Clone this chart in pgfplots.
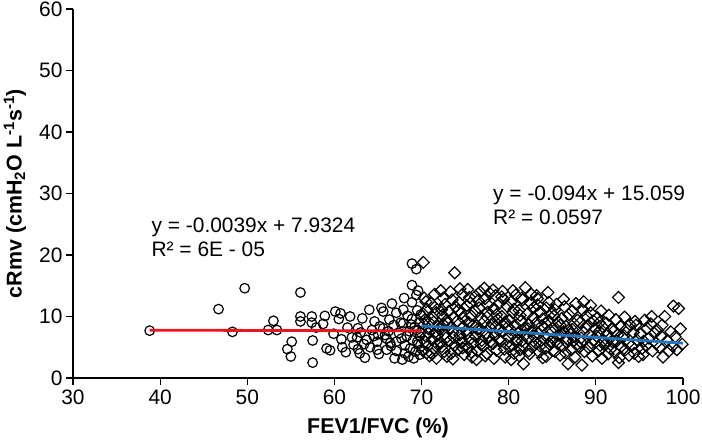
\documentclass[border=0pt]{standalone}
\usepackage{fontspec}
\setmainfont{Liberation Sans}
\usepackage{pgfplots}
\pgfplotsset{compat=1.18}
\definecolor{fitred}{RGB}{232,22,28}
\definecolor{fitblue}{RGB}{33,118,190}
\begin{document}
\begin{tikzpicture}
\path[use as bounding box] (-73bp,-66bp) rectangle (629bp,378bp);
\begin{axis}[
  at={(0,0)}, anchor=south west,
  scale only axis, width=610bp, height=369bp,
  xmin=30, xmax=100, ymin=0, ymax=60,
  xtick={30,40,...,100}, ytick={0,10,...,60},
  axis x line=bottom, axis y line=left,
  axis line style={-, line width=1.1bp, black},
  tick style={line width=1.1bp, black},
  tick align=outside, major tick length=7bp,
  /pgf/number format/assume math mode=true,
  tick label style={font=\fontsize{21}{25}\selectfont},
  xticklabel style={yshift=-1bp},
  xlabel={FEV1/FVC (\%)},
  ylabel={cRmv (cmH\textsubscript{2}O L\textsuperscript{-1}s\textsuperscript{-1})},
  label style={font=\bfseries\fontsize{21.5}{25}\selectfont},
  xlabel style={at={(axis description cs:0.5,-0.1355)}, anchor=center},
  ylabel style={at={(axis description cs:-0.0951,0.5)}, anchor=center},
  clip=false, clip marker paths=true,
]
% circles (FEV1/FVC < 70)
\addplot[only marks, mark=o, mark size=4.8bp, mark options={line width=1.2bp, black}] coordinates {
(38.8,7.7) (46.7,11.2) (48.3,7.5) (49.7,14.6) (52.4,7.8) (53.0,9.3) (53.4,7.8)
(54.6,4.7) (55.0,3.5) (55.1,5.9) (56.1,13.9) (56.1,10.0) (56.1,9.2) (57.4,10.0)
(57.4,9.0) (57.9,8.2) (57.5,6.1) (57.5,2.5) (58.9,10.1) (58.7,8.8) (59.1,4.8)
(59.5,4.5) (59.9,7.2) (60.1,10.8) (60.7,10.5) (60.5,9.6) (60.8,6.3) (60.9,5.0)
(61.3,4.2) (61.5,8.2) (62.0,6.6) (62.7,8.1) (62.7,4.7) (62.6,6.6) (62.9,4.0)
(63.0,7.4) (63.4,5.5) (63.7,6.2) (64.0,11.1) (64.1,5.0) (64.3,7.8) (64.6,9.2)
(64.9,5.9) (64.9,4.6) (65.2,8.4) (65.6,10.8) (65.6,8.1) (65.8,7.0) (66.0,6.4)
(66.0,4.6) (66.3,9.5) (66.5,5.2) (66.8,8.6) (67.1,10.6) (67.1,5.9) (67.1,4.4)
(67.4,7.3) (67.6,9.0) (67.9,11.1) (67.9,8.9) (68.1,5.3) (68.1,4.0) (68.3,6.8)
(68.4,10.1) (68.5,3.5) (68.6,7.6) (68.9,18.6) (68.9,15.1) (68.9,12.3) (68.9,9.6)
(69.0,6.1) (69.2,8.3) (69.3,4.3) (69.4,17.7) (69.4,13.5) (69.4,7.8) (69.5,11.0)
(69.6,5.5) (69.7,9.0) (69.8,3.8) (69.8,6.8) (69.9,10.3) (63.5,3.3) (65.1,3.9)
(66.9,3.2) (67.8,3.0) (69.1,3.2) (62.2,5.4) (64.5,6.8) (66.2,7.6) (61.8,10.0)
(63.2,9.7) (65.4,11.4) (66.6,12.1) (68.0,13.0) (69.6,14.2) (68.7,4.8) (69.5,5.9)
(67.7,6.4) (68.8,8.7) (69.9,7.4) (66.4,5.7) (65.0,7.1)
};
% diamonds (FEV1/FVC >= 70)
\addplot[only marks, mark=square, mark size=4.2bp, mark options={rotate=45, line width=1.2bp, black}] coordinates {
(70.1,4.5) (70.2,18.8) (70.3,13.0) (70.4,9.5) (70.5,6.8) (70.6,11.2) (70.7,5.2) (70.8,8.0) (70.9,3.6) (70.2,10.4) (70.5,12.4) (70.8,7.3) (70.4,5.9) (70.9,9.0) (70.6,4.1) (70.3,8.7)
(71.1,12.1) (71.2,6.2) (71.3,9.8) (71.4,4.8) (71.5,13.6) (71.6,7.5) (71.7,10.6) (71.8,5.5) (71.9,8.4) (71.2,3.9) (71.5,11.5) (71.8,6.9) (71.4,9.1) (71.7,3.2)
(72.1,7.9) (72.2,14.2) (72.3,5.1) (72.4,10.2) (72.5,8.7) (72.6,4.3) (72.7,12.0) (72.8,6.5) (72.9,9.4) (72.3,11.1) (72.6,7.1) (72.9,3.5) (72.2,5.8) (72.5,13.0)
(73.1,10.8) (73.2,6.0) (73.3,8.2) (73.4,4.0) (73.5,12.7) (73.6,7.4) (73.7,9.9) (73.8,17.1) (73.8,5.3) (73.9,11.6) (73.3,14.0) (73.6,3.1) (73.0,8.9) (73.7,6.6)
(74.1,9.3) (74.2,4.6) (74.3,12.3) (74.4,7.0) (74.5,10.5) (74.6,5.7) (74.7,13.6) (74.8,8.3) (74.9,3.8) (74.2,11.0) (74.5,6.3) (74.8,9.7) (74.4,14.5) (74.7,4.9)
(75.1,7.7) (75.2,11.8) (75.3,5.0) (75.4,9.0) (75.5,13.1) (75.6,6.4) (75.7,10.1) (75.8,3.4) (75.9,8.6) (75.3,14.4) (75.6,12.2) (75.9,5.6) (75.2,7.2) (75.7,4.2)
(76.1,10.9) (76.2,6.8) (76.3,8.5) (76.4,4.4) (76.5,12.6) (76.6,7.6) (76.7,14.0) (76.8,5.4) (76.9,9.6) (76.3,3.0) (76.6,11.4) (76.9,6.1) (76.2,13.3) (76.5,8.0)
(77.1,5.2) (77.2,9.2) (77.3,12.9) (77.4,7.3) (77.5,4.0) (77.6,10.7) (77.7,6.6) (77.8,13.8) (77.9,8.1) (77.3,3.6) (77.6,11.9) (77.9,5.9) (77.2,14.6) (77.5,9.9)
(78.1,8.8) (78.2,5.6) (78.3,11.3) (78.4,6.9) (78.5,13.4) (78.6,4.5) (78.7,9.5) (78.8,7.8) (78.9,12.1) (78.3,3.2) (78.6,10.3) (78.9,6.2) (78.2,14.3) (78.5,8.4)
(79.1,6.0) (79.2,10.0) (79.3,7.5) (79.4,12.8) (79.5,4.7) (79.6,9.1) (79.7,5.5) (79.8,11.7) (79.9,8.3) (79.3,14.1) (79.6,3.4) (79.9,6.7) (79.2,13.2) (79.5,8.9)
(80.1,9.4) (80.2,5.1) (80.3,12.4) (80.4,7.1) (80.5,10.6) (80.6,4.0) (80.7,8.6) (80.8,13.5) (80.9,6.3) (80.3,3.0) (80.6,11.2) (80.9,5.8) (80.2,7.9) (80.5,14.2)
(81.1,7.4) (81.2,11.0) (81.3,4.6) (81.4,9.2) (81.5,6.0) (81.6,12.7) (81.7,2.3) (81.8,8.1) (81.9,14.7) (81.3,10.2) (81.6,5.3) (81.9,7.0) (81.2,3.6) (81.5,13.0)
(82.1,10.4) (82.2,6.5) (82.3,8.7) (82.4,3.9) (82.5,12.2) (82.6,7.6) (82.7,5.0) (82.8,9.8) (82.9,11.5) (82.3,4.4) (82.6,13.6) (82.9,6.8) (82.2,8.0)
(83.1,5.7) (83.2,9.0) (83.3,12.9) (83.4,7.2) (83.5,4.2) (83.6,10.8) (83.7,6.1) (83.8,8.5) (83.9,3.3) (83.3,11.9) (83.6,5.2) (83.9,9.6) (83.2,13.4)
(84.1,8.2) (84.2,4.8) (84.3,11.4) (84.4,6.6) (84.5,13.9) (84.6,9.3) (84.7,5.5) (84.8,7.7) (84.9,10.5) (84.3,3.5) (84.6,12.3) (84.9,6.0) (84.2,8.9)
(85.1,6.4) (85.2,10.1) (85.3,4.3) (85.4,8.0) (85.5,12.0) (85.6,5.6) (85.7,9.1) (85.8,7.0) (85.9,3.7) (85.3,11.1) (85.6,6.9) (85.9,8.6)
(86.1,9.7) (86.2,5.2) (86.3,7.5) (86.4,11.6) (86.5,4.1) (86.6,8.4) (86.7,6.3) (86.8,2.3) (86.9,10.3) (86.3,12.8) (86.6,5.9) (86.9,7.8)
(87.1,7.1) (87.2,4.6) (87.3,10.9) (87.4,6.0) (87.5,8.8) (87.6,3.4) (87.7,12.1) (87.8,5.4) (87.9,9.4) (87.3,7.9) (87.6,6.7)
(88.1,5.0) (88.2,9.0) (88.3,6.5) (88.4,2.1) (88.5,11.0) (88.6,7.4) (88.7,4.3) (88.8,8.2) (88.9,10.1) (88.3,5.8) (88.6,12.4)
(89.1,8.6) (89.2,4.9) (89.3,7.0) (89.4,10.6) (89.5,5.7) (89.6,3.6) (89.7,9.3) (89.8,6.2) (89.9,8.0) (89.4,11.8)
(90.1,6.8) (90.2,9.8) (90.3,4.4) (90.4,7.6) (90.5,5.3) (90.6,10.9) (90.7,3.2) (90.8,8.3) (90.9,6.1) (90.4,9.0)
(91.1,5.5) (91.2,8.9) (91.3,7.2) (91.4,3.9) (91.5,10.2) (91.6,6.4) (91.7,4.7) (91.8,8.0) (91.9,5.9)
(92.1,7.7) (92.2,4.2) (92.3,9.5) (92.4,6.0) (92.6,13.1) (92.6,2.5) (92.7,3.3) (92.8,8.4) (92.9,5.1) (92.5,7.0)
(93.1,6.6) (93.3,9.9) (93.4,4.6) (93.5,7.9) (93.7,5.6) (93.8,3.7) (93.9,8.7) (93.2,6.9)
(94.1,5.2) (94.3,7.4) (94.4,4.0) (94.6,8.6) (94.7,6.2) (94.9,3.5) (94.5,9.2)
(95.1,7.1) (95.3,4.8) (95.6,9.4) (95.5,6.0) (95.8,5.3) (95.9,8.1) (95.4,3.8)
(96.1,6.5) (96.3,8.8) (96.5,4.4) (96.7,7.3) (96.9,5.6) (96.4,10.0)
(97.1,7.8) (97.3,5.0) (97.5,6.8) (97.7,3.4) (97.9,10.0) (97.6,8.6)
(98.2,6.1) (98.4,4.4) (98.6,7.5) (98.9,11.7) (98.8,5.2)
(99.1,6.7) (99.5,11.3) (99.3,4.6) (99.9,5.5) (99.7,8.0)
};
% trend lines
\addplot[fitred, line width=2.8bp, no marks] coordinates {(38.8,7.781) (70,7.660)};
\addplot[fitblue, line width=2.8bp, no marks] coordinates {(70,8.479) (100,5.659)};
% equations
\node[anchor=base west, inner sep=0, font=\fontsize{21}{25}\selectfont] at (axis cs:39,23.7) {y = -0.0039x + 7.9324};
\node[anchor=base west, inner sep=0, font=\fontsize{21}{25}\selectfont] at (axis cs:39,19.8) {R² = 6E - 05};
\node[anchor=base west, inner sep=0, font=\fontsize{21}{25}\selectfont] at (axis cs:78.2,28.9) {y = -0.094x + 15.059};
\node[anchor=base west, inner sep=0, font=\fontsize{21}{25}\selectfont] at (axis cs:78.2,25.0) {R² = 0.0597};
\end{axis}
\end{tikzpicture}
\end{document}
